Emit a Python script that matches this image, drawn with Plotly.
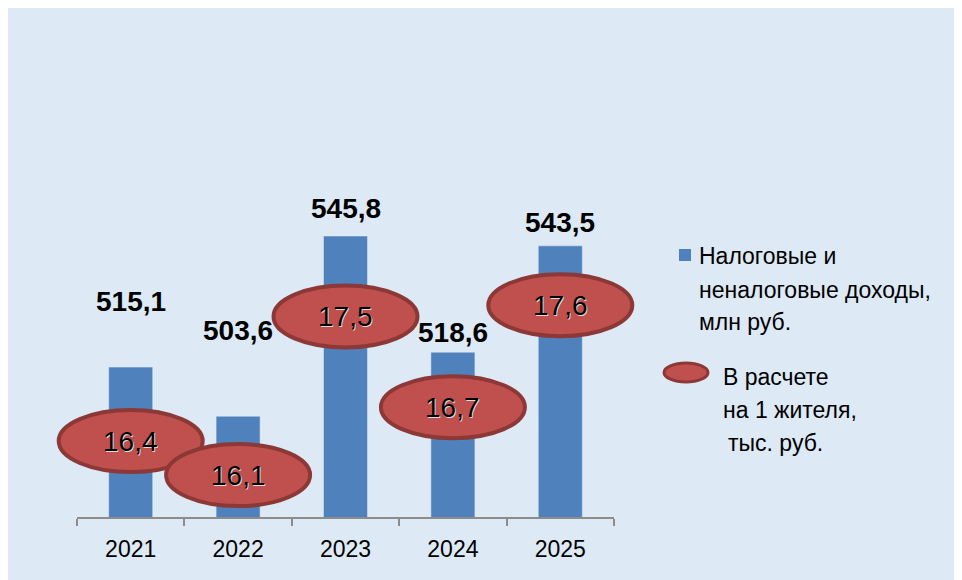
import plotly.graph_objects as go

# данные
years = ['2021', '2022', '2023', '2024', '2025']
dohody = [515.1, 503.6, 545.8, 518.6, 543.5]          # млн руб.
na_zhitelya = [16.4, 16.1, 17.5, 16.7, 17.6]          # тыс. руб.
dohody_text = ['515,1', '503,6', '545,8', '518,6', '543,5']
zhitel_text = ['16,4', '16,1', '17,5', '16,7', '17,6']

# сдвиг подписей над столбцами (пиксели)
label_shift = [66, 86, 28, 20, 23]

W, H = 962, 580
OFF = 8  # отступ страницы
ML, MR, MT, MB = 69, 356, 82, 71
FONT = 'Liberation Sans, Arial, sans-serif'
BLUE = '#4F81BD'
RED = '#C0504D'
DARKRED = '#8C3836'


def px(x):
    return (x - OFF - ML) / (W - ML - MR)


def py(y):
    return (H - MB - (y - OFF)) / (H - MT - MB)


fig = go.Figure()
fig.add_trace(go.Bar(x=years, y=dohody, marker_color=BLUE, width=0.41,
                     showlegend=False, hoverinfo='x+y'))
fig.add_trace(go.Scatter(x=years, y=na_zhitelya, yaxis='y2', mode='markers',
                         marker=dict(opacity=0), showlegend=False, hoverinfo='x+y'))

annotations = []
shapes = []
n = len(years)

# подписи над столбцами
for i, v in enumerate(dohody):
    annotations.append(dict(x=i, y=v, xref='x', yref='y', text=dohody_text[i],
                            showarrow=False, yanchor='middle', yshift=label_shift[i],
                            font=dict(family=FONT, size=28, color='black', weight='bold')))

# эллипсы "на 1 жителя" (по x в долях области, чтобы не обрезались)
for i, v in enumerate(na_zhitelya):
    shapes.append(dict(type='circle', xref='paper', yref='y2',
                       xsizemode='pixel', ysizemode='pixel',
                       xanchor=(i + 0.5) / n, yanchor=v, x0=-72, x1=72, y0=-31, y1=31,
                       fillcolor=RED, line=dict(color=DARKRED, width=4),
                       layer='above'))
    annotations.append(dict(x=i, y=v, xref='x', yref='y2', text=zhitel_text[i],
                            showarrow=False, yanchor='middle',
                            font=dict(family=FONT, size=28, color='black',
                                      shadow='1px 1px 0px #dddddd')))

# легенда
shapes.append(dict(type='rect', xref='paper', yref='paper',
                   x0=px(679), x1=px(691), y0=py(261), y1=py(249),
                   fillcolor=BLUE, line=dict(width=0)))
shapes.append(dict(type='circle', xref='paper', yref='paper',
                   x0=px(664), x1=px(708), y0=py(382), y1=py(363),
                   fillcolor=RED, line=dict(color=DARKRED, width=3)))

legend_lines = [
    (697, 256, 'Налоговые и'),
    (697, 290, 'неналоговые доходы,'),
    (697, 322, 'млн руб.'),
    (721, 377, 'В расчете'),
    (721, 410, 'на 1 жителя,'),
    (726, 443, 'тыс. руб.'),
]
for x, y, t in legend_lines:
    annotations.append(dict(x=px(x), y=py(y), xref='paper', yref='paper', text=t,
                            showarrow=False, xanchor='left', yanchor='middle',
                            font=dict(family=FONT, size=23, color='black')))

fig.update_layout(
    width=W, height=H,
    margin=dict(l=ML, r=MR, t=MT, b=MB),
    paper_bgcolor='#DDE9F5',
    plot_bgcolor='rgba(0,0,0,0)',
    xaxis=dict(type='category', categoryorder='array', categoryarray=years,
               range=[-0.5, n - 0.5], autorange=False,
               showline=True, linecolor='#8C8C8C', linewidth=2,
               ticks='outside', tickson='boundaries', ticklen=7, tickwidth=2,
               tickcolor='#8C8C8C', showgrid=False, zeroline=False,
               tickfont=dict(family=FONT, size=23, color='black'),
               ticklabelstandoff=10),
    yaxis=dict(range=[480, 580], visible=False, showgrid=False),
    yaxis2=dict(range=[15.73, 19.50], overlaying='y', visible=False, showgrid=False),
    shapes=shapes,
    annotations=annotations,
    showlegend=False,
)

fig.write_html('out.html')
